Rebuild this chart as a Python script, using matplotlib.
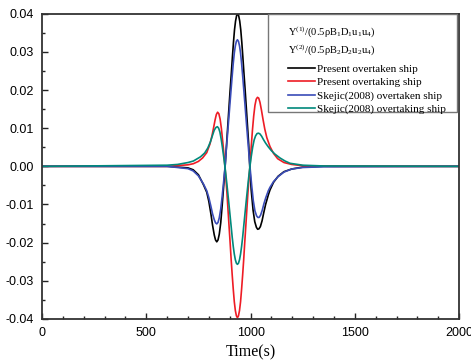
import numpy as np
import matplotlib
matplotlib.use('Agg')
import matplotlib.pyplot as plt
from matplotlib.patches import Rectangle
from matplotlib.ticker import MultipleLocator, FormatStrFormatter

plt.rcParams['axes.unicode_minus'] = False
plt.rcParams['mathtext.fontset'] = 'custom'
plt.rcParams['mathtext.rm'] = 'Liberation Serif'
plt.rcParams['mathtext.it'] = 'Liberation Serif'

# values (time in s, lateral force coefficient)
t_black = [0, 600, 700, 725, 750, 774, 790, 800, 810, 818, 826, 832, 838, 844, 850, 857, 864,
           871, 878, 884, 890, 896, 902, 908, 913, 918, 923, 928, 933, 938, 943, 948, 953, 958,
           963, 968, 974, 980, 986, 991, 996, 1003, 1012, 1020, 1028, 1034, 1040, 1047, 1055,
           1063, 1072, 1085, 1093, 1110, 1132, 1160, 1197, 1250, 1350, 2000]
y_black = [0, 0, -0.0004, -0.0009, -0.0022, -0.0048, -0.0068, -0.0092, -0.0125, -0.0155,
           -0.0180, -0.0193, -0.0198, -0.0193, -0.0178, -0.0148, -0.0102, -0.0052, 0.0, 0.005,
           0.010, 0.015, 0.020, 0.0246, 0.0287, 0.0325, 0.0358, 0.0381, 0.0395, 0.040, 0.0395,
           0.0381, 0.0358, 0.0325, 0.0287, 0.0246, 0.020, 0.015, 0.010, 0.0058, 0.0, -0.0062,
           -0.0115, -0.0145, -0.0160, -0.0165, -0.0164, -0.0158, -0.0143, -0.0122, -0.0100,
           -0.0075, -0.0062, -0.0042, -0.0026, -0.0014, -0.0007, -0.0002, 0, 0]

t_red = [0, 600, 700, 726, 750, 770, 790, 805, 815, 823, 830, 836, 842, 848, 854, 860, 866, 872,
         877, 882, 887, 892, 897, 902, 907, 912, 917, 922, 927, 932, 937, 942, 947, 952, 957,
         962, 967, 972, 977, 982, 987, 992, 997, 1003, 1009, 1015, 1021, 1027, 1033, 1039, 1045,
         1052, 1060, 1068, 1078, 1093, 1110, 1130, 1160, 1197, 1260, 1400, 2000]
y_red = [0, 0, 0.0004, 0.0007, 0.0013, 0.0022, 0.0036, 0.0058, 0.0080, 0.0102, 0.0122, 0.0136,
         0.0142, 0.0138, 0.0124, 0.0100, 0.0068, 0.0034, 0.0, -0.0033, -0.0072, -0.0115,
         -0.0158, -0.0200, -0.0245, -0.0285, -0.0322, -0.0355, -0.0378, -0.0392, -0.0397,
         -0.0392, -0.0378, -0.0355, -0.0322, -0.0285, -0.0245, -0.0200, -0.0158, -0.0115,
         -0.0072, -0.0033, 0.0, 0.0050, 0.0095, 0.0132, 0.0160, 0.0176, 0.0181, 0.0179, 0.0168,
         0.0148, 0.0122, 0.0098, 0.0075, 0.0052, 0.0034, 0.0020, 0.0010, 0.0005, 0.0001, 0, 0]

t_blue = [0, 600, 700, 725, 750, 774, 790, 800, 810, 818, 826, 832, 838, 844, 850, 857, 864,
          871, 878, 883, 889, 895, 901, 907, 912, 917, 922, 927, 932, 937, 942, 947, 952, 957,
          962, 967, 973, 979, 985, 991, 997, 1005, 1013, 1021, 1029, 1035, 1041, 1048, 1056,
          1064, 1073, 1085, 1093, 1110, 1132, 1160, 1197, 1250, 1350, 2000]
y_blue = [0, 0, -0.0006, -0.0012, -0.0025, -0.0046, -0.0064, -0.0082, -0.0105, -0.0125,
          -0.0140, -0.0148, -0.0151, -0.0147, -0.0135, -0.0112, -0.0078, -0.0040, 0.0, 0.0040,
          0.0080, 0.0121, 0.0163, 0.0204, 0.0238, 0.0270, 0.0297, 0.0316, 0.0328, 0.0332,
          0.0328, 0.0316, 0.0297, 0.0270, 0.0238, 0.0204, 0.0163, 0.0121, 0.0080, 0.0040, 0.0,
          -0.0048, -0.0090, -0.0117, -0.0130, -0.0134, -0.0134, -0.0128, -0.0115, -0.0098,
          -0.0082, -0.0064, -0.0055, -0.0040, -0.0027, -0.0015, -0.0007, -0.0003, -0.0001, 0]

t_teal = [0, 600, 650, 700, 726, 760, 780, 795, 808, 818, 826, 834, 841, 847, 853, 859, 865, 871,
          877, 883, 889, 895, 901, 907, 912, 917, 922, 927, 932, 937, 942, 947, 952, 957, 962,
          967, 973, 979, 985, 991, 997, 1003, 1010, 1017, 1024, 1031, 1038, 1045, 1053, 1062,
          1072, 1085, 1100, 1117, 1141, 1165, 1189, 1250, 1350, 2000]
y_teal = [0, 0.0003, 0.0005, 0.0010, 0.0014, 0.0025, 0.0035, 0.0048, 0.0065, 0.0082, 0.0095,
          0.0102, 0.0104, 0.0100, 0.0090, 0.0072, 0.0050, 0.0026, 0.0, -0.0029, -0.0060,
          -0.0092, -0.0125, -0.0158, -0.0186, -0.0210, -0.0230, -0.0245, -0.0254, -0.0257,
          -0.0254, -0.0245, -0.0230, -0.0210, -0.0186, -0.0158, -0.0125, -0.0092, -0.0060,
          -0.0029, 0.0, 0.0025, 0.0050, 0.0069, 0.0080, 0.0086, 0.0087, 0.0085, 0.0079,
          0.0070, 0.0061, 0.0051, 0.0041, 0.0032, 0.0022, 0.0014, 0.0008, 0.0003, 0.0001, 0]

labels = ['Present overtaken ship', 'Present overtaking ship',
          'Skejic(2008) overtaken ship', 'Skejic(2008) overtaking ship']
colors = ['black', '#ee1c25', '#3a4cb8', '#00897b']
header = ['Y$^{(1)}$/(0.5ρB$_1$D$_1$u$_1$u$_4$)',
          'Y$^{(2)}$/(0.5ρB$_2$D$_2$u$_2$u$_4$)']

fig = plt.figure(figsize=(4.71, 3.64), dpi=100)
ax = fig.add_axes([0.089, 0.124, 0.886, 0.838])

ax.plot(t_black, y_black, color=colors[0], lw=1.2, label=labels[0])
ax.plot(t_red, y_red, color=colors[1], lw=1.2, label=labels[1])
ax.plot(t_blue, y_blue, color=colors[2], lw=1.2, label=labels[2])
ax.plot(t_teal, y_teal, color=colors[3], lw=1.2, label=labels[3])

ax.set_xlim(0, 2000)
ax.set_ylim(-0.04, 0.04)
ax.xaxis.set_major_locator(MultipleLocator(500))
ax.xaxis.set_minor_locator(MultipleLocator(100))
ax.yaxis.set_major_locator(MultipleLocator(0.01))
ax.yaxis.set_minor_locator(MultipleLocator(0.005))
ax.yaxis.set_major_formatter(FormatStrFormatter('%.2f'))
ax.tick_params(which='both', direction='in', top=False, right=False, color='#222222')
ax.tick_params(which='major', length=4, width=1, labelsize=9)
ax.tick_params(which='minor', length=2.5, width=1)
ax.tick_params(axis='y', pad=6)
ax.tick_params(axis='x', pad=6)
for lab in ax.get_xticklabels() + ax.get_yticklabels():
    lab.set_family('Liberation Sans')
for s in ax.spines.values():
    s.set_color('#333333')
    s.set_linewidth(1.3)

ax.set_xlabel('Time(s)', family='Liberation Serif', fontsize=11.5, labelpad=4)

# legend frame, header lines and entries
ax.add_patch(Rectangle((0.542, 0.679), 0.453, 0.321, transform=ax.transAxes,
                       facecolor='white', edgecolor='#777777', lw=1.0, zorder=4))
ax.text(0.590, 0.941, header[0], transform=ax.transAxes, va='center', ha='left',
        family='Liberation Serif', fontsize=7.6, zorder=5)
ax.text(0.590, 0.882, header[1], transform=ax.transAxes, va='center', ha='left',
        family='Liberation Serif', fontsize=7.6, zorder=5)
leg = ax.legend(loc='upper left', bbox_to_anchor=(0.590, 0.835),
                prop={'family': 'Liberation Serif', 'size': 8}, frameon=False,
                handlelength=2.4, handletextpad=0.2, labelspacing=0.32,
                borderpad=0, borderaxespad=0)
leg.set_zorder(6)

fig.savefig('out.png', dpi=100)
